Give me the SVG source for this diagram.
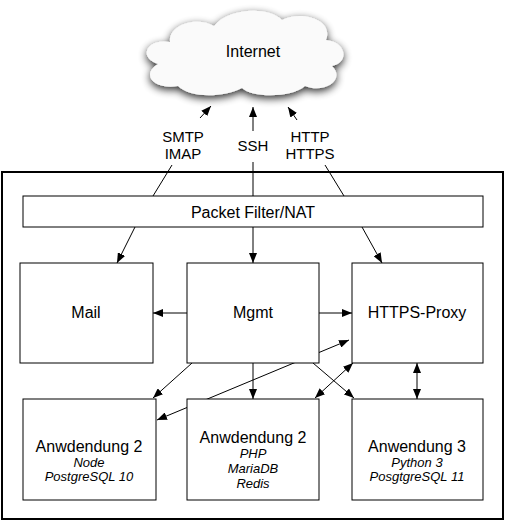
<svg xmlns="http://www.w3.org/2000/svg" width="506" height="522" viewBox="0 0 506 522">
<style>
.box{fill:#fff;stroke:#000;stroke-width:1}
.t{font-family:"Liberation Sans",Arial,sans-serif;font-size:16px;fill:#000;text-anchor:middle}
.s{font-family:"Liberation Sans",Arial,sans-serif;font-size:13px;font-style:italic;fill:#000;text-anchor:middle}
.l{font-family:"Liberation Sans",Arial,sans-serif;font-size:15px;fill:#000;text-anchor:middle}
.c{fill:none;stroke:#000;stroke-width:1}
.a{marker-end:url(#ah)}
.d{marker-start:url(#ah);marker-end:url(#ah)}
</style>
<defs>
<marker id="ah" viewBox="0 0 10 8" refX="10" refY="4" markerWidth="10" markerHeight="8" markerUnits="userSpaceOnUse" orient="auto-start-reverse">
<path d="M0,0 L10,4 L0,8 z" fill="#000"/>
</marker>
<filter id="sh" x="-20%" y="-30%" width="140%" height="170%">
<feGaussianBlur in="SourceAlpha" stdDeviation="4" result="b"/>
<feOffset in="b" dx="0" dy="3" result="o"/>
<feComponentTransfer in="o" result="o2"><feFuncA type="linear" slope="0.85"/></feComponentTransfer>
<feMerge><feMergeNode in="o2"/><feMergeNode in="SourceGraphic"/></feMerge>
</filter>
</defs>
<rect width="506" height="522" fill="#fff"/>
<g id="frame"><rect x="2" y="172" width="501" height="347" fill="none" stroke="#000" stroke-width="2"/></g>
<g id="internet">
<path filter="url(#sh)" fill="#fafafa" d="M178 86 C155 90 140 75 158 64 C138 58 146 38 170 42 C168 24 198 16 214 26 C228 8 268 6 282 20 C302 10 334 20 326 40 C346 42 350 62 332 66 C346 80 324 94 305 86 C292 98 252 98 242 88 C222 98 190 98 178 86 Z"/>
<text class="t" x="253" y="57">Internet</text>
</g>
<g id="connectors">
<line class="c a" x1="200" y1="118" x2="211" y2="106"/>
<line class="c a" x1="253" y1="131" x2="253" y2="107"/>
<line class="c a" x1="297" y1="120" x2="288" y2="107"/>
<line class="c" x1="172" y1="165" x2="153" y2="196"/>
<line class="c" x1="253" y1="162" x2="253" y2="196"/>
<line class="c" x1="325" y1="165" x2="344" y2="196"/>
<line class="c a" x1="135" y1="227" x2="117" y2="263"/>
<line class="c a" x1="253" y1="227" x2="253" y2="263"/>
<line class="c a" x1="362" y1="227" x2="382" y2="263"/>
<line class="c a" x1="187" y1="313" x2="153" y2="313"/>
<line class="c a" x1="319" y1="313" x2="352" y2="313"/>
<line class="c a" x1="192" y1="363" x2="153" y2="398"/>
<line class="c a" x1="253" y1="363" x2="253" y2="399"/>
<line class="c a" x1="313" y1="363" x2="354" y2="398"/>
<line class="c d" x1="349" y1="340" x2="157" y2="420"/>
<line class="c d" x1="353" y1="363" x2="315" y2="398"/>
<line class="c d" x1="417" y1="363" x2="417" y2="399"/>
</g>
<g id="labels">
<text class="l" x="183" y="142">SMTP</text>
<text class="l" x="183" y="159">IMAP</text>
<text class="l" x="253" y="151">SSH</text>
<text class="l" x="310" y="142">HTTP</text>
<text class="l" x="310" y="159">HTTPS</text>
</g>
<g id="packetfilter"><rect class="box" x="23" y="196" width="460" height="31"/><text class="t" x="253" y="218">Packet Filter/NAT</text></g>
<g id="mail"><rect class="box" x="20" y="263" width="133" height="100"/><text class="t" x="86" y="318">Mail</text></g>
<g id="mgmt"><rect class="box" x="187" y="263" width="132" height="100"/><text class="t" x="253" y="318">Mgmt</text></g>
<g id="proxy"><rect class="box" x="352" y="263" width="131" height="100"/><text class="t" x="417" y="318">HTTPS-Proxy</text></g>
<g id="app1"><rect class="box" x="23" y="399" width="133" height="101"/><text class="t" x="89" y="452">Anwdendung 2</text><text class="s" x="89" y="467">Node</text><text class="s" x="89" y="481">PostgreSQL 10</text></g>
<g id="app2"><rect class="box" x="187" y="399" width="132" height="101"/><text class="t" x="253" y="443">Anwdendung 2</text><text class="s" x="253" y="458">PHP</text><text class="s" x="253" y="473">MariaDB</text><text class="s" x="253" y="488">Redis</text></g>
<g id="app3"><rect class="box" x="352" y="399" width="131" height="101"/><text class="t" x="417" y="452">Anwendung 3</text><text class="s" x="417" y="467">Python 3</text><text class="s" x="417" y="481">PosgtgreSQL 11</text></g>
</svg>
